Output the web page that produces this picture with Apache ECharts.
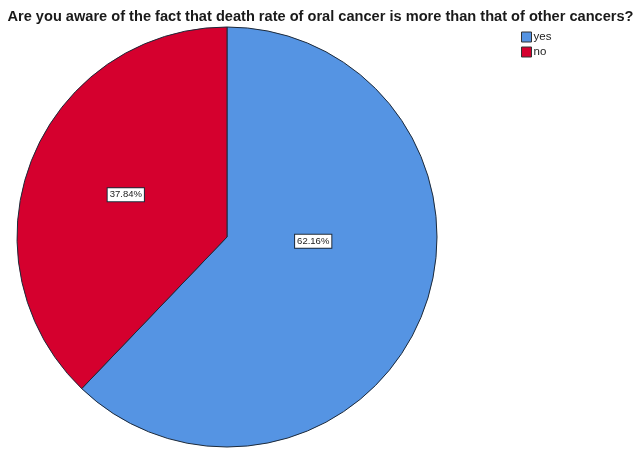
<!DOCTYPE html>
<html>
<head>
<meta charset="utf-8">
<script src="https://cdn.jsdelivr.net/npm/echarts@6/dist/echarts.min.js"></script>
<style>html,body{margin:0;padding:0;background:#fff;}#c{width:641px;height:449px;}</style>
</head>
<body>
<div id="c"></div>
<script>
var categories = ['yes', 'no'];
var percents = [62.16, 37.84];
var colors = ['#5594E3', '#D5002E'];
var titleText = 'Are you aware of the fact that death rate of oral cancer is more than that of other cancers?';

var chart = echarts.init(document.getElementById('c'), null, {renderer: 'canvas'});
var labelOffsets = [[-14, -36], [-1, -2]];
var data = categories.map(function (c, i) {
  return {
    name: c,
    value: percents[i],
    itemStyle: {color: colors[i]},
    label: {offset: labelOffsets[i]}
  };
});
chart.setOption({
  animation: false,
  backgroundColor: '#fff',
  title: {
    text: titleText,
    left: 'center',
    top: 4,
    textStyle: {fontFamily: 'Liberation Sans', fontWeight: 'bold', fontSize: 14.6, color: '#1a1a1a'}
  },
  legend: {
    orient: 'vertical',
    left: 516,
    top: 26,
    itemWidth: 10,
    itemHeight: 10,
    itemGap: 3,
    icon: 'rect',
    itemStyle: {borderColor: '#333', borderWidth: 1},
    textStyle: {fontFamily: 'Liberation Sans', fontSize: 11.5, color: '#222', padding: [0, 0, 0, -3], lineHeight: 12},
    data: categories
  },
  series: [{
    type: 'pie',
    center: [227, 237],
    radius: 210,
    startAngle: 90,
    clockwise: true,
    silent: true,
    itemStyle: {borderColor: '#1d2a3a', borderWidth: 1},
    label: {
      show: true,
      position: 'inside',
      formatter: function (p) { return p.value.toFixed(2) + '%'; },
      fontFamily: 'Liberation Sans',
      fontSize: 9.5,
      color: '#222',
      backgroundColor: '#fff',
      borderColor: '#1d2a3a',
      borderWidth: 1,
      padding: [2, 2, 1, 2]
    },
    labelLine: {show: false},
    data: data
  }]
});
</script>
</body>
</html>
